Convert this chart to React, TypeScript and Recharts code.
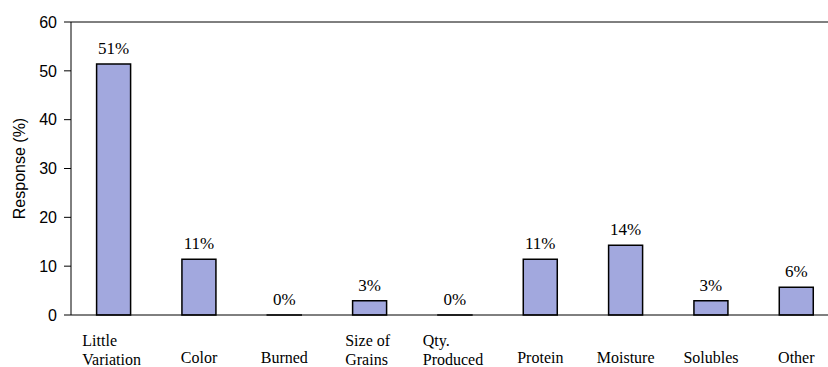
import React from 'react';
import { Bar, BarChart, LabelList, ReferenceLine, XAxis, YAxis } from 'recharts';

const categories = [
  'Little\nVariation',
  'Color',
  'Burned',
  'Size of\nGrains',
  'Qty.\nProduced',
  'Protein',
  'Moisture',
  'Solubles',
  'Other',
];
const responses = [51.4, 11.4, 0, 2.9, 0, 11.4, 14.3, 2.9, 5.7];
const yTicks = [0, 10, 20, 30, 40, 50, 60];

const data = categories.map((name, i) => ({ name, value: responses[i] }));

const SERIF = '"Liberation Serif", "Times New Roman", serif';
const SANS = '"Liberation Sans", Arial, sans-serif';

let ctx: CanvasRenderingContext2D | null = null;
function textWidth(s: string) {
  if (!ctx) ctx = document.createElement('canvas').getContext('2d');
  if (!ctx) return s.length * 8;
  ctx.font = `16px ${SERIF}`;
  return ctx.measureText(s).width;
}

function CategoryTick(props: any) {
  const { x, y, payload } = props;
  const lines: string[] = String(payload.value).split('\n');
  if (lines.length === 1) {
    return (
      <text x={x} y={y + 48} textAnchor="middle" fontFamily={SERIF} fontSize={16} fill="#000">
        {lines[0]}
      </text>
    );
  }
  const w = Math.max(...lines.map(textWidth));
  return (
    <text x={x - w / 2 - 2} y={y + 31} textAnchor="start" fontFamily={SERIF} fontSize={16} fill="#000">
      {lines.map((l, i) => (
        <tspan key={i} x={x - w / 2 - 2} dy={i === 0 ? 0 : 18.5}>
          {l}
        </tspan>
      ))}
    </text>
  );
}

function PercentLabel(props: any) {
  const { x, y, width, value } = props;
  if (x == null || y == null) return null;
  return (
    <text x={x + width / 2} y={y - 10} textAnchor="middle" fontFamily={SERIF} fontSize={17} fill="#000">
      {`${Math.round(Number(value))}%`}
    </text>
  );
}

export default function App() {
  return (
    <div style={{ position: 'absolute', left: 0, top: 0, width: 828, height: 367, overflow: 'hidden', background: '#fff' }}>
      <BarChart
        width={850}
        height={367}
        data={data}
        margin={{ top: 22, right: 11, left: 0, bottom: 0 }}
        barCategoryGap="30%"
      >
        <XAxis
          dataKey="name"
          interval={0}
          height={52}
          tickLine={false}
          tickSize={0}
          tickMargin={0}
          axisLine={{ stroke: '#000' }}
          tick={<CategoryTick />}
        />
        <YAxis
          width={71}
          domain={[0, 60]}
          ticks={yTicks}
          tickSize={7}
          tickMargin={7}
          axisLine={{ stroke: '#000' }}
          tickLine={{ stroke: '#000' }}
          tick={{ fill: '#000', fontFamily: SANS, fontSize: 16 }}
          label={{
            content: ({ viewBox }: any) => (
              <text
                x={viewBox.x + 25}
                y={viewBox.y + viewBox.height / 2}
                transform={`rotate(-90, ${viewBox.x + 25}, ${viewBox.y + viewBox.height / 2})`}
                textAnchor="middle"
                fontFamily={SANS}
                fontSize={16}
                fill="#000"
              >
                Response (%)
              </text>
            ),
          }}
        />
        <ReferenceLine y={60} stroke="#000" />
        <Bar
          dataKey="value"
          fill="#A2A8DE"
          stroke="#000"
          strokeWidth={1.5}
          minPointSize={0.01}
          isAnimationActive={false}
        >
          <LabelList dataKey="value" content={<PercentLabel />} />
        </Bar>
      </BarChart>
    </div>
  );
}
